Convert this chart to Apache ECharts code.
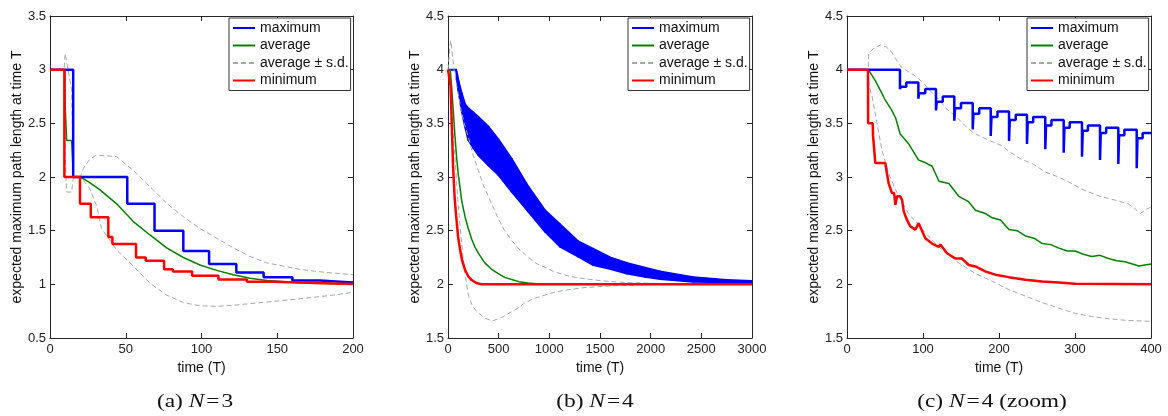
<!DOCTYPE html>
<html><head><meta charset="utf-8">
<script src="https://cdn.jsdelivr.net/npm/echarts@6/dist/echarts.min.js"></script>
<style>html,body{margin:0;padding:0;background:#fff}#c{width:1168px;height:416px}</style>
</head><body><div id="c"></div>
<script>
// ---------- data: panel (a) N=3, t in [0,200] ----------
const a_max  = [[0,3],[15.3,2],[51,1.75],[69,1.5],[88,1.31],[105,1.19],[123,1.11],[141,1.067],[160,1.036],[178,1.018],[200,1.018]];
const a_min  = [[0,3],[9.5,2],[19.8,1.75],[26.9,1.625],[38.5,1.44],[41.2,1.375],[56.8,1.25],[63.2,1.22],[75.3,1.14],[81.1,1.12],[93.8,1.08],[111.2,1.045],[130,1.025],[147.6,1.012],[175,1.004],[200,1.0]];
const a_avg  = [[0,3],[9.9,3],[10,2.67],[10.8,2.67],[11,2.34],[14.3,2.34],[15.4,2.0],[20,2.0],[26,1.95],[33,1.88],[44,1.75],[55,1.585],[66,1.46],[77,1.34],[88,1.25],[99,1.18],[110,1.13],[121,1.09],[132,1.056],[143,1.036],[165,1.015],[200,1.0]];
const a_sdHi = [[0,3],[9.3,3],[10,3.15],[14.3,2.81],[15.4,2.0],[20,2.0],[22,2.08],[26,2.16],[30,2.2],[35,2.2],[44,2.19],[55,2.06],[66,1.91],[77,1.755],[88,1.63],[99,1.52],[110,1.43],[121,1.34],[132,1.26],[143,1.2],[154,1.17],[165,1.14],[176,1.12],[187,1.105],[200,1.09]];
const a_sdLo = [[0,3],[9.3,3],[10,2.2],[11,1.86],[14.3,1.86],[15.4,2.0],[20,2.0],[26,1.9],[31,1.72],[34,1.52],[40,1.4],[44,1.32],[55,1.17],[66,1.01],[77,0.9],[88,0.83],[99,0.8],[110,0.795],[121,0.805],[143,0.835],[165,0.865],[187,0.9],[200,0.925]];

// ---------- data: panel (b) N=4, t in [0,3000] ----------
const b_maxHi = [[0,4],[80,4],[90,3.96],[102,3.9],[135,3.78],[168,3.68],[201,3.64],[250,3.6],[299,3.56],[398,3.47],[497,3.35],[628,3.17],[793,2.91],[957,2.69],[1105,2.56],[1286,2.4],[1434,2.33],[1615,2.245],[1763,2.2],[1944,2.155],[2092,2.12],[2421,2.065],[2750,2.04],[3000,2.03]];
const b_maxLo = [[0,4],[80,4],[90,3.9],[102,3.81],[135,3.62],[168,3.47],[201,3.345],[250,3.27],[299,3.205],[398,3.11],[497,3.02],[628,2.863],[793,2.677],[957,2.491],[1105,2.351],[1286,2.258],[1434,2.18],[1615,2.14],[1763,2.1],[1944,2.07],[2092,2.05],[2421,2.025],[2750,2.02],[3000,2.01]];
const b_avg  = [[0,4],[22,4],[36,3.84],[52,3.62],[69,3.38],[85,3.18],[102,3.02],[135,2.78],[168,2.63],[200,2.52],[234,2.42],[270,2.34],[299,2.29],[363,2.2],[430,2.14],[497,2.1],[560,2.065],[628,2.045],[700,2.025],[793,2.012],[900,2.003],[3000,2.0]];
const b_min  = [[0,4],[18,4],[25,3.85],[33,3.62],[50,3.1],[66,2.8],[80,2.64],[100,2.44],[118,2.33],[140,2.22],[170,2.13],[200,2.075],[234,2.04],[280,2.012],[330,2.0],[3000,2.0]];
const b_sdHi = [[0,4],[18,4],[25,4.27],[32,4.25],[45,4.12],[60,4.0],[80,3.88],[100,3.78],[130,3.62],[160,3.5],[201,3.37],[250,3.2],[299,3.06],[350,2.92],[398,2.82],[450,2.71],[497,2.61],[560,2.5],[628,2.41],[700,2.33],[793,2.25],[880,2.19],[957,2.16],[1040,2.12],[1122,2.095],[1200,2.075],[1286,2.06],[1451,2.04],[1615,2.025],[1800,2.015],[2200,2.005],[3000,2.0]];
const b_sdLo = [[0,4],[18,4],[25,3.9],[40,3.6],[55,3.35],[69,3.18],[85,2.95],[100,2.75],[118,2.55],[140,2.33],[168,2.1],[201,1.9],[240,1.8],[280,1.75],[363,1.685],[440,1.66],[527,1.69],[692,1.78],[760,1.83],[857,1.87],[1022,1.92],[1187,1.95],[1352,1.97],[1600,1.985],[2000,1.998],[3000,2.0]];

// ---------- data: panel (c) N=4 zoom, t in [0,400] ----------
const c_max  = [[0,4],[69.7,3.82],[70.7,3.84],[78,3.88],[93.9,3.73],[94.9,3.78],[103,3.82],[117.1,3.62],[118.1,3.7],[126,3.75],[141.2,3.525],[142.2,3.64],[150,3.69],[165.4,3.444],[166.4,3.59],[174,3.64],[189.1,3.382],[190.1,3.56],[198,3.61],[213.2,3.335],[214.2,3.53],[222,3.58],[236.8,3.307],[237.8,3.51],[245,3.56],[260.9,3.258],[261.9,3.48],[269,3.53],[285.1,3.226],[286.1,3.46],[293,3.51],[309.2,3.189],[310.2,3.43],[317,3.48],[332.9,3.158],[333.9,3.41],[341,3.46],[357,3.121],[358,3.39],[365,3.44],[381.2,3.081],[382.2,3.36],[389,3.41],[400,3.41]];
const c_avg  = [[0,4],[28,4],[30,3.98],[37,3.9],[46,3.78],[50,3.72],[59,3.62],[64,3.55],[70,3.4],[81,3.31],[94,3.16],[104,3.13],[112,3.1],[121,2.96],[134,2.94],[147,2.82],[160,2.77],[169,2.69],[182,2.66],[191,2.62],[202,2.6],[213,2.51],[224,2.5],[235,2.45],[246,2.43],[257,2.38],[268,2.37],[278,2.34],[290,2.31],[300,2.31],[311,2.28],[322,2.26],[333,2.27],[344,2.24],[355,2.22],[366,2.21],[384,2.17],[392,2.18],[400,2.19]];
const c_min  = [[0,4],[27.6,4],[27.8,3.5],[33.8,3.5],[34.2,3.39],[36.8,3.39],[37.3,3.13],[50.4,3.13],[52.6,3.03],[54.8,2.94],[57,2.94],[59.2,2.85],[62,2.85],[63.6,2.74],[65.4,2.74],[66,2.82],[70,2.82],[72.4,2.79],[74.6,2.68],[78.9,2.6],[83.3,2.54],[89.9,2.51],[92,2.51],[94.3,2.57],[96.5,2.56],[98.7,2.5],[103.1,2.43],[111.8,2.38],[120.6,2.35],[123,2.37],[125,2.37],[131.6,2.29],[142.5,2.24],[151.3,2.24],[160.1,2.18],[168.9,2.167],[182,2.12],[195.2,2.09],[212.7,2.067],[234.6,2.043],[256.6,2.027],[278.5,2.018],[300.4,2.005],[400,2.0]];
const c_sdHi = [[0,4],[28,4],[28.5,4.15],[35,4.2],[44,4.23],[52,4.21],[58,4.17],[64,4.1],[72,4.02],[81,3.98],[90,3.94],[100,3.88],[110,3.8],[121,3.72],[130,3.64],[144,3.56],[155,3.48],[165,3.42],[175,3.38],[191,3.33],[204,3.29],[213,3.24],[228,3.17],[245,3.12],[260,3.05],[278,3.0],[290,2.96],[311,2.88],[333,2.82],[355,2.78],[370,2.75],[378,2.71],[386,2.66],[394,2.7],[400,2.72]];
const c_sdLo = [[0,4],[28,4],[29,3.85],[33,3.75],[37,3.6],[42,3.4],[46,3.25],[50,3.15],[55,3.03],[64,2.88],[72,2.77],[81,2.66],[92,2.57],[103,2.48],[114,2.4],[125,2.32],[136,2.26],[147,2.2],[158,2.15],[169,2.1],[180,2.065],[191,2.03],[202,1.99],[213,1.95],[235,1.89],[257,1.83],[278,1.78],[300,1.73],[322,1.7],[344,1.68],[366,1.665],[383,1.66],[400,1.655]];

// ---------- axes / text ----------
const xRanges = [[0,200,50],[0,3000,500],[0,400,100]];
const yRanges = [[0.5,3.5,0.5],[1.5,4.5,0.5],[1.5,4.5,0.5]];
const legendNames = ['maximum','average','average \u00b1 s.d.','minimum'];
const captions = ['(a) {i|N}{eq|=}3','(b) {i|N}{eq|=}4','(c) {i|N}{eq|=}4 (zoom)'];
const yName = 'expected maximum path length at time T';
const xName = 'time (T)';

// ---------- styling ----------
const BLUE='#0000ff', GREEN='#008000', RED='#ff0000', SD='#a3aca3', AX='#262626';
const FONT='"Liberation Sans", Arial, sans-serif';
const gridBoxes = [{left:50,top:16,width:303,height:322},{left:448,top:16,width:304,height:322},{left:847,top:16,width:304,height:322}];
const legendLeft = [229,628,1027];
const captionX = [195,595,992];
const plainNum = v => String(v);

function mkLine(name, data, p, color, width, extra) {
  return Object.assign({
    type:'line', name:name, data:data, xAxisIndex:2*p, yAxisIndex:2*p,
    symbol:'none', showSymbol:false, animation:false, silent:true,
    lineStyle:{color:color, width:width}, itemStyle:{color:color}
  }, extra||{});
}
function sdLine(data,p){ return mkLine('average \u00b1 s.d.', data, p, SD, 1, {lineStyle:{color:SD,width:1,type:[5,3]}}); }

const xAxes=[], yAxes=[];
for (let p=0;p<3;p++){
  const [x0,x1,xi]=xRanges[p], [y0,y1,yi]=yRanges[p];
  const common = {axisLine:{show:true,onZero:false,lineStyle:{color:AX,width:1}},
    axisTick:{show:true,inside:true,length:5,lineStyle:{color:AX,width:1}},
    splitLine:{show:false}};
  xAxes.push(Object.assign({type:'value',gridIndex:p,position:'bottom',min:x0,max:x1,interval:xi,
    name:xName,nameLocation:'middle',nameGap:16,
    nameTextStyle:{fontSize:14,color:'#111',fontFamily:FONT},
    axisLabel:{fontSize:13,color:'#222',fontFamily:FONT,margin:5,formatter:plainNum}},common));
  xAxes.push(Object.assign({type:'value',gridIndex:p,position:'top',min:x0,max:x1,interval:xi,
    axisLabel:{show:false}},common));
  yAxes.push(Object.assign({type:'value',gridIndex:p,position:'left',min:y0,max:y1,interval:yi,
    name:yName,nameLocation:'middle',nameGap:25,
    nameTextStyle:{fontSize:14,color:'#111',fontFamily:FONT},
    axisLabel:{fontSize:13,color:'#222',fontFamily:FONT,margin:4,formatter:plainNum}},common));
  yAxes.push(Object.assign({type:'value',gridIndex:p,position:'right',min:y0,max:y1,interval:yi,
    axisLabel:{show:false}},common));
}

// band for panel (b) maximum (rapid oscillation drawn as its envelope band)
const bandData = b_maxHi.map((d,i)=>[d[0], b_maxLo[i][1], d[1]]);
const bandSeries = {
  type:'custom', name:'maximum', xAxisIndex:2, yAxisIndex:2, silent:true, animation:false,
  data:bandData, encode:{x:0, y:[1,2]}, clip:true,
  itemStyle:{color:BLUE},
  renderItem:function(params, api){
    const i = params.dataIndex;
    if (i >= bandData.length-1) return null;
    const a = bandData[i], b = bandData[i+1];
    const pts = [api.coord([a[0],a[1]]), api.coord([b[0],b[1]]), api.coord([b[0],b[2]]), api.coord([a[0],a[2]])];
    return {type:'polygon', shape:{points:pts}, style:{fill:BLUE, stroke:BLUE, lineWidth:2, lineJoin:'round'}};
  }
};

const series = [
  // (a)
  sdLine(a_sdHi,0), sdLine(a_sdLo,0),
  mkLine('average', a_avg, 0, GREEN, 1.5),
  mkLine('maximum', a_max, 0, BLUE, 2.5, {step:'end'}),
  mkLine('minimum', a_min, 0, RED, 2.5, {step:'end'}),
  // (b)
  sdLine(b_sdHi,1), sdLine(b_sdLo,1),
  bandSeries,
  mkLine('average', b_avg, 1, GREEN, 1.5),
  mkLine('minimum', b_min, 1, RED, 2.5),
  // (c)
  sdLine(c_sdHi,2), sdLine(c_sdLo,2),
  mkLine('average', c_avg, 2, GREEN, 1.5),
  mkLine('maximum', c_max, 2, BLUE, 2.5, {step:'end'}),
  mkLine('minimum', c_min, 2, RED, 2.5)
];

const legends = legendLeft.map(l=>({
  left:l, top:18, orient:'vertical', data:legendNames,
  itemWidth:22, itemHeight:14, itemGap:3.5, padding:[3,2,3,3],
  borderColor:'#333', borderWidth:1, backgroundColor:'#fff', borderRadius:0,
  itemStyle:{opacity:0},
  textStyle:{fontSize:14,color:'#111',fontFamily:FONT},
  selectedMode:false, z:10
}));

const graphics = captions.map((t,i)=>({
  type:'text', x:captionX[i], y:402, scaleX:1.3, silent:true,
  style:{text:t, fontSize:18, fontFamily:'"Liberation Serif", "Times New Roman", serif',
    fill:'#111', textAlign:'center', textVerticalAlign:'middle', align:'center', verticalAlign:'middle',
    rich:{i:{fontStyle:'italic',fontSize:18,fontFamily:'"Liberation Serif", serif'},
          eq:{fontSize:18,fontFamily:'"Liberation Serif", serif',padding:[0,1.5,0,1.5]}}}
}));

const chart = echarts.init(document.getElementById('c'), null, {renderer:'canvas'});
chart.setOption({
  animation:false,
  backgroundColor:'#fff',
  grid: gridBoxes.map(g=>Object.assign({containLabel:false, outerBoundsMode:'none'}, g)),
  xAxis:xAxes, yAxis:yAxes,
  legend:legends,
  series:series,
  graphic:graphics
});
</script>
</body></html>
